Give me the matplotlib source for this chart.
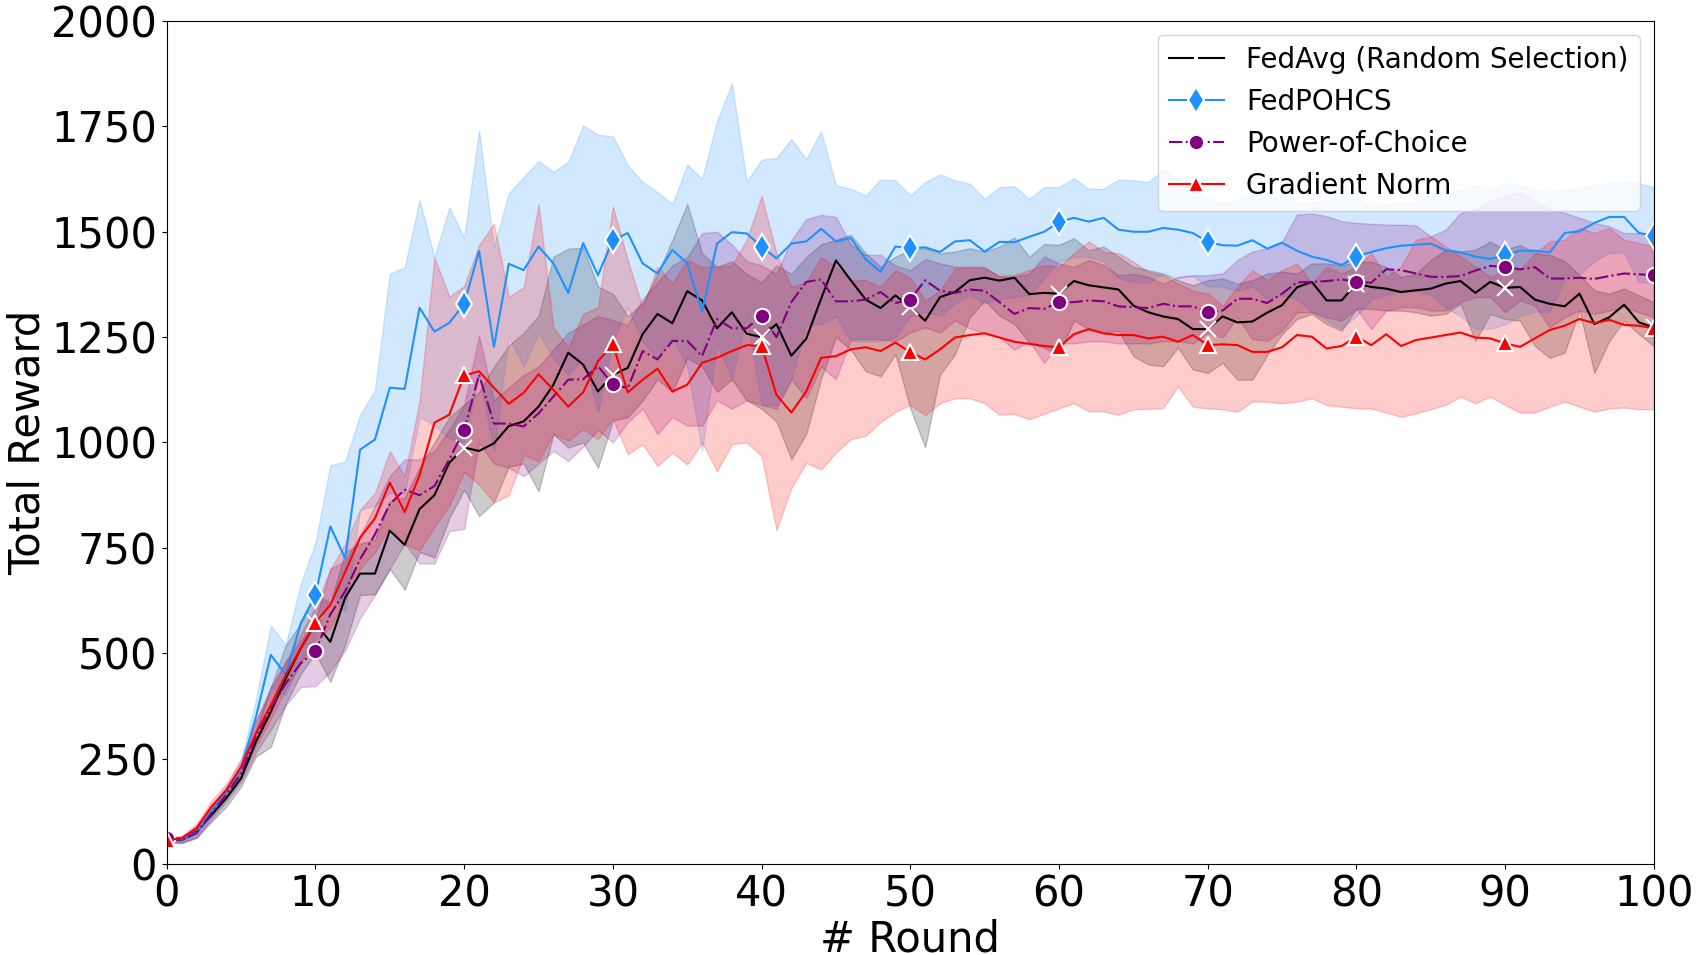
import matplotlib
matplotlib.use('Agg')
import matplotlib.pyplot as plt
import numpy as np

#rounds 0..100
rounds = np.arange(0, 101)

#FedAvg (random selection) - mean and band
fedavg_mean = [57, 57, 77, 116, 156, 203, 290, 361, 440, 511,
               571, 527, 632, 689, 689, 791, 757, 842, 875, 952,
               988, 980, 998, 1039, 1050, 1085, 1137, 1213, 1185, 1121,
               1161, 1177, 1257, 1305, 1283, 1359, 1337, 1271, 1309, 1258,
               1250, 1281, 1206, 1246, 1341, 1432, 1385, 1339, 1319, 1349,
               1321, 1289, 1345, 1357, 1385, 1391, 1384, 1391, 1352, 1355,
               1353, 1383, 1373, 1368, 1363, 1325, 1309, 1299, 1293, 1269,
               1269, 1299, 1285, 1287, 1308, 1326, 1368, 1381, 1337, 1337,
               1377, 1369, 1365, 1357, 1361, 1365, 1377, 1383, 1355, 1381,
               1367, 1369, 1339, 1329, 1323, 1353, 1281, 1297, 1327, 1285,
               1273]
fedavg_low = [50, 50, 62, 100, 136, 184, 255, 278, 380, 450,
              500, 432, 520, 638, 640, 700, 651, 740, 727, 820,
              888, 825, 858, 943, 950, 884, 1020, 988, 1000, 940,
              1052, 1060, 1100, 1150, 1120, 1200, 1180, 1120, 1150, 1100,
              1080, 1050, 960, 1020, 1150, 1250, 1220, 1169, 1157, 1209,
              1081, 988, 1161, 1209, 1297, 1337, 1301, 1281, 1237, 1225,
              1209, 1289, 1269, 1261, 1265, 1205, 1185, 1181, 1225, 1173,
              1165, 1189, 1149, 1149, 1207, 1257, 1293, 1305, 1281, 1265,
              1317, 1317, 1313, 1313, 1309, 1301, 1305, 1329, 1241, 1305,
              1293, 1289, 1229, 1201, 1213, 1313, 1165, 1241, 1289, 1257,
              1229]
fedavg_high = [64, 64, 90, 132, 175, 222, 320, 420, 519, 570,
               640, 620, 740, 760, 770, 860, 870, 940, 1000, 1060,
               1090, 1120, 1180, 1230, 1260, 1300, 1441, 1460, 1462, 1370,
               1353, 1300, 1330, 1400, 1481, 1566, 1449, 1417, 1430, 1400,
               1380, 1420, 1400, 1440, 1470, 1481, 1493, 1449, 1417, 1441,
               1457, 1461, 1449, 1453, 1461, 1453, 1465, 1487, 1441, 1471,
               1469, 1485, 1456, 1465, 1441, 1417, 1409, 1401, 1385, 1373,
               1385, 1389, 1377, 1385, 1401, 1405, 1401, 1425, 1425, 1420,
               1429, 1429, 1417, 1393, 1400, 1433, 1457, 1453, 1457, 1477,
               1457, 1469, 1449, 1445, 1430, 1397, 1361, 1353, 1365, 1349,
               1333]

#FedPOHCS
pohcs_mean = [57, 58, 75, 125, 170, 227, 349, 496, 449, 570,
              638, 801, 725, 983, 1007, 1130, 1127, 1320, 1263, 1284,
              1329, 1454, 1227, 1424, 1409, 1465, 1425, 1355, 1473, 1397,
              1480, 1497, 1425, 1401, 1457, 1425, 1311, 1472, 1499, 1496,
              1464, 1437, 1472, 1477, 1507, 1477, 1485, 1435, 1405, 1465,
              1461, 1463, 1452, 1477, 1480, 1453, 1476, 1475, 1488, 1500,
              1523, 1533, 1524, 1533, 1505, 1500, 1500, 1509, 1505, 1497,
              1476, 1468, 1467, 1480, 1460, 1474, 1455, 1441, 1433, 1421,
              1441, 1452, 1461, 1467, 1469, 1472, 1456, 1451, 1441, 1435,
              1445, 1455, 1455, 1451, 1497, 1501, 1521, 1535, 1535, 1497,
              1491]
pohcs_low = [52, 52, 66, 112, 155, 210, 310, 420, 400, 480,
             540, 640, 600, 840, 850, 880, 880, 1060, 1040, 1010,
             1000, 1160, 980, 1250, 1180, 1260, 1200, 1161, 1200, 1073,
             1240, 1320, 1240, 1200, 1250, 1180, 980, 1233, 1150, 1300,
             1089, 1089, 1150, 1281, 1281, 1300, 1241, 1240, 1240, 1250,
             1300, 1310, 1300, 1330, 1350, 1330, 1340, 1345, 1350, 1390,
             1430, 1440, 1440, 1430, 1390, 1380, 1380, 1400, 1390, 1395,
             1370, 1370, 1360, 1370, 1340, 1350, 1340, 1310, 1290, 1270,
             1300, 1340, 1350, 1360, 1360, 1350, 1320, 1300, 1270, 1270,
             1280, 1300, 1310, 1310, 1390, 1400, 1430, 1450, 1450, 1380,
             1380]
pohcs_high = [62, 64, 84, 138, 185, 245, 390, 566, 520, 663,
              763, 946, 955, 1065, 1124, 1401, 1415, 1575, 1439, 1558,
              1486, 1740, 1464, 1591, 1630, 1668, 1642, 1666, 1752, 1730,
              1726, 1658, 1618, 1594, 1566, 1659, 1626, 1762, 1852, 1619,
              1671, 1675, 1720, 1672, 1738, 1610, 1602, 1586, 1624, 1622,
              1586, 1618, 1636, 1622, 1614, 1578, 1606, 1608, 1578, 1606,
              1606, 1627, 1602, 1602, 1624, 1622, 1618, 1646, 1626, 1600,
              1580, 1565, 1575, 1590, 1585, 1580, 1570, 1570, 1575, 1580,
              1580, 1560, 1565, 1570, 1570, 1590, 1590, 1600, 1610, 1600,
              1615, 1610, 1600, 1595, 1600, 1600, 1610, 1615, 1620, 1615,
              1605]

#Power-of-Choice
poc_mean = [61, 57, 73, 120, 164, 215, 302, 369, 428, 476,
            505, 592, 647, 723, 782, 854, 888, 875, 897, 960,
            1030, 1161, 1045, 1045, 1038, 1069, 1109, 1149, 1150, 1181,
            1138, 1129, 1217, 1197, 1241, 1241, 1205, 1293, 1271, 1271,
            1301, 1250, 1333, 1381, 1387, 1335, 1335, 1339, 1357, 1331,
            1339, 1385, 1360, 1355, 1363, 1360, 1333, 1305, 1319, 1317,
            1333, 1333, 1337, 1335, 1323, 1321, 1319, 1329, 1323, 1323,
            1309, 1313, 1341, 1341, 1331, 1353, 1380, 1381, 1383, 1387,
            1381, 1379, 1411, 1409, 1401, 1393, 1393, 1395, 1408, 1419,
            1416, 1411, 1416, 1389, 1389, 1391, 1388, 1395, 1401, 1399,
            1397]
poc_low = [56, 50, 62, 105, 148, 195, 265, 318, 376, 420,
           422, 456, 507, 583, 638, 700, 760, 713, 713, 790,
           795, 1000, 950, 940, 920, 950, 980, 956, 990, 1030,
           1000, 1048, 1080, 1020, 1060, 1040, 1040, 1100, 1080, 1100,
           1089, 1080, 1150, 1105, 1180, 1150, 1245, 1245, 1245, 1240,
           1261, 1273, 1261, 1290, 1270, 1260, 1250, 1220, 1240, 1189,
           1235, 1235, 1240, 1240, 1235, 1235, 1235, 1240, 1240, 1235,
           1260, 1249, 1297, 1245, 1241, 1265, 1309, 1309, 1297, 1289,
           1317, 1269, 1313, 1321, 1321, 1313, 1313, 1333, 1345, 1345,
           1309, 1337, 1325, 1273, 1297, 1313, 1305, 1313, 1321, 1309,
           1297]
poc_high = [66, 64, 84, 134, 180, 235, 340, 420, 480, 530,
            580, 700, 720, 780, 850, 920, 960, 960, 980, 1030,
            1090, 1253, 1100, 1130, 1160, 1180, 1220, 1260, 1280, 1300,
            1290, 1280, 1340, 1380, 1420, 1440, 1497, 1500, 1470, 1430,
            1420, 1400, 1480, 1530, 1540, 1535, 1470, 1445, 1445, 1420,
            1409, 1435, 1425, 1417, 1417, 1417, 1393, 1393, 1401, 1441,
            1425, 1417, 1433, 1421, 1397, 1400, 1393, 1377, 1393, 1397,
            1397, 1401, 1433, 1453, 1461, 1477, 1541, 1543, 1537, 1525,
            1521, 1519, 1517, 1517, 1515, 1489, 1505, 1545, 1553, 1574,
            1586, 1594, 1574, 1553, 1545, 1533, 1521, 1513, 1497, 1497,
            1493]

#Gradient Norm
gn_mean = [57, 61, 85, 136, 175, 231, 310, 377, 448, 511,
           572, 615, 693, 774, 820, 905, 835, 922, 1047, 1066,
           1159, 1169, 1130, 1092, 1118, 1162, 1125, 1085, 1119, 1193,
           1233, 1119, 1149, 1175, 1121, 1137, 1189, 1201, 1217, 1231,
           1229, 1113, 1071, 1121, 1201, 1205, 1221, 1226, 1217, 1237,
           1214, 1197, 1221, 1249, 1255, 1259, 1249, 1239, 1234, 1229,
           1226, 1257, 1269, 1259, 1255, 1255, 1247, 1251, 1239, 1255,
           1231, 1233, 1231, 1215, 1215, 1226, 1255, 1251, 1223, 1229,
           1251, 1231, 1257, 1229, 1243, 1249, 1255, 1261, 1249, 1247,
           1235, 1227, 1247, 1267, 1277, 1293, 1283, 1291, 1279, 1277,
           1271]
gn_low = [52, 56, 75, 122, 160, 212, 280, 345, 415, 475,
          530, 560, 630, 700, 740, 800, 760, 744, 800, 850,
          930, 900, 858, 875, 970, 956, 1020, 1004, 1032, 1008,
          1056, 972, 996, 944, 976, 948, 1000, 932, 996, 1000,
          968, 792, 892, 952, 936, 976, 1008, 1016, 1048, 1073,
          1089, 1065, 1093, 1105, 1105, 1093, 1066, 1068, 1055, 1068,
          1081, 1093, 1074, 1074, 1066, 1079, 1080, 1082, 1133, 1085,
          1081, 1079, 1073, 1097, 1097, 1093, 1097, 1105, 1089, 1085,
          1081, 1081, 1071, 1061, 1069, 1079, 1089, 1109, 1093, 1109,
          1089, 1071, 1071, 1085, 1097, 1085, 1073, 1081, 1083, 1079,
          1079]
gn_high = [62, 66, 95, 150, 190, 250, 340, 410, 480, 545,
           610, 700, 760, 840, 880, 980, 920, 1100, 1439, 1346,
           1371, 1469, 1519, 1346, 1368, 1565, 1273, 1225, 1305, 1321,
           1560, 1433, 1321, 1417, 1377, 1433, 1417, 1417, 1420, 1481,
           1585, 1449, 1369, 1380, 1440, 1417, 1385, 1385, 1369, 1409,
           1390, 1337, 1360, 1413, 1415, 1413, 1395, 1397, 1409, 1421,
           1417, 1449, 1477, 1453, 1449, 1429, 1405, 1397, 1377, 1360,
           1353, 1325, 1369, 1409, 1385, 1409, 1425, 1377, 1417, 1401,
           1417, 1449, 1393, 1417, 1481, 1489, 1465, 1441, 1417, 1393,
           1409, 1409, 1449, 1477, 1481, 1509, 1497, 1509, 1481, 1473,
           1465]

labels = ['FedAvg (Random Selection)', 'FedPOHCS', 'Power-of-Choice', 'Gradient Norm']
means = [fedavg_mean, pohcs_mean, poc_mean, gn_mean]
lows = [fedavg_low, pohcs_low, poc_low, gn_low]
highs = [fedavg_high, pohcs_high, poc_high, gn_high]
colors = ['black', 'dodgerblue', 'purple', 'red']
markers = ['x', 'd', 'o', '^']
msizes = [12, 13, 11, 11]
styles = ['-', '-', '-.', '-']

fig = plt.figure(figsize=(16.98, 9.55), dpi=100)
ax = fig.add_subplot(1, 1, 1)
fig.subplots_adjust(left=0.0982, right=0.974, top=0.978, bottom=0.0953)

#band first, then the mean line with a marker every 10 rounds
for i in range(4):
    ax.fill_between(rounds, lows[i], highs[i], color=colors[i], alpha=0.2)
    ax.plot(rounds, means[i], color=colors[i], linestyle=styles[i], linewidth=1.5,
            marker=markers[i], markersize=msizes[i], markevery=10,
            markeredgecolor='white', markeredgewidth=1.5, label=labels[i])

ax.set_xlim(0, 100)
ax.set_ylim(0, 2000)
ax.set_xticks(np.arange(0, 101, 10))
ax.set_yticks(np.arange(0, 2001, 250))
ax.tick_params(labelsize=30)
ax.set_xlabel('# Round', fontsize=30, labelpad=2)
ax.set_ylabel('Total Reward', fontsize=30, labelpad=2)
ax.legend(loc='upper right', fontsize=20)

plt.savefig('out.png', dpi=100)
